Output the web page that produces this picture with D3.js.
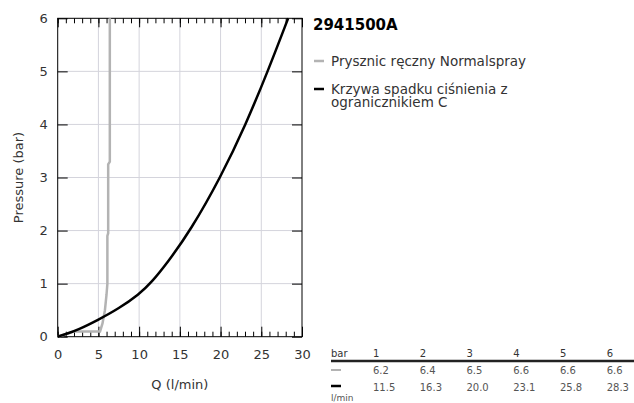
<!DOCTYPE html>
<html>
<head>
<meta charset="utf-8">
<script src="https://cdn.jsdelivr.net/npm/d3@7"></script>
<style>
  body { margin: 0; background: #fff; }
  svg { font-family: 'DejaVu Sans', sans-serif; }
</style>
</head>
<body>
<div id="chart"></div>
<script>
// gray curve: hand shower Normalspray
var normalQ = [0, 1.3, 2.0, 5.2, 5.5, 5.8, 6.0, 6.1, 6.1, 6.2, 6.2, 6.4, 6.4];
var normalP = [0, 0.06, 0.1, 0.1, 0.25, 0.5, 0.8, 1.0, 1.9, 1.95, 3.25, 3.3, 6.0];
// black curve: pressure drop with limiter C
var limQ = [0, 1, 2.5, 5, 7.5, 10, 11.5, 13.5, 16.3, 20.0, 23.1, 25.8, 28.3];
var limP = [0, 0.05, 0.13, 0.32, 0.53, 0.8, 1.02, 1.4, 2, 3, 4, 5, 6];

var xTicks = [0, 5, 10, 15, 20, 25, 30];
var yTicks = [0, 1, 2, 3, 4, 5, 6];

var title = '2941500A';
var legendNames = ['Prysznic ręczny Normalspray', ['Krzywa spadku ciśnienia z', 'ogranicznikiem C']];
var tableBar = ['1', '2', '3', '4', '5', '6'];
var tableNormal = ['6.2', '6.4', '6.5', '6.6', '6.6', '6.6'];
var tableLim = ['11.5', '16.3', '20.0', '23.1', '25.8', '28.3'];

var width = 634, height = 403;
var pLeft = 57.7, pRight = 302, pTop = 18.3, pBottom = 336.7;
var grayCol = '#b3b3b3', txtCol = '#333';

var svg = d3.select('#chart').append('svg')
  .attr('width', width)
  .attr('height', height);

var x = d3.scaleLinear().domain([0, 30]).range([pLeft, pRight]);
var y = d3.scaleLinear().domain([0, 6]).range([pBottom, pTop]);

// grid
svg.append('g').selectAll('line')
  .data(xTicks.slice(1, -1)).enter().append('line')
  .attr('x1', d => x(d)).attr('x2', d => x(d))
  .attr('y1', pTop).attr('y2', pBottom)
  .attr('stroke', '#d4d4dc').attr('stroke-width', 1);
svg.append('g').selectAll('line')
  .data(yTicks.slice(1, -1)).enter().append('line')
  .attr('x1', pLeft).attr('x2', pRight)
  .attr('y1', d => y(d)).attr('y2', d => y(d))
  .attr('stroke', '#d4d4dc').attr('stroke-width', 1);

function styleAxis(g) {
  g.select('.domain').remove();
  g.selectAll('line').attr('stroke', '#000');
  g.selectAll('text').attr('fill', txtCol).style('font-size', '13px')
    .style('font-family', 'DejaVu Sans, sans-serif');
}

// x minor ticks, bottom and top
svg.append('g').attr('transform', 'translate(0,' + pBottom + ')')
  .call(d3.axisBottom(x).tickValues(d3.range(0, 31)).tickSize(-5).tickFormat(''))
  .call(styleAxis);
svg.append('g').attr('transform', 'translate(0,' + pTop + ')')
  .call(d3.axisTop(x).tickValues(d3.range(0, 31)).tickSize(-5).tickFormat(''))
  .call(styleAxis);
// x major
svg.append('g').attr('transform', 'translate(0,' + pBottom + ')')
  .call(d3.axisBottom(x).tickValues(xTicks).tickSize(-10).tickPadding(13).tickFormat(d3.format('d')))
  .call(styleAxis);
svg.append('g').attr('transform', 'translate(0,' + pTop + ')')
  .call(d3.axisTop(x).tickValues(xTicks).tickSize(-9).tickFormat(''))
  .call(styleAxis);
// y ticks left and right
svg.append('g').attr('transform', 'translate(' + pLeft + ',0)')
  .call(d3.axisLeft(y).tickValues(yTicks).tickSize(-10).tickPadding(10).tickFormat(d3.format('d')))
  .call(styleAxis);
svg.append('g').attr('transform', 'translate(' + pRight + ',0)')
  .call(d3.axisRight(y).tickValues(yTicks).tickSize(-10).tickFormat(''))
  .call(styleAxis);

// frame
svg.append('rect')
  .attr('x', pLeft).attr('y', pTop)
  .attr('width', pRight - pLeft).attr('height', pBottom - pTop)
  .attr('fill', 'none').attr('stroke', '#000').attr('stroke-width', 1);

// curves
var normalLine = d3.line()
  .x((d, i) => x(normalQ[i]))
  .y((d, i) => y(normalP[i]));
svg.append('path')
  .datum(normalQ)
  .attr('d', normalLine)
  .attr('fill', 'none')
  .attr('stroke', grayCol)
  .attr('stroke-width', 2.5);

var limLine = d3.line()
  .x((d, i) => x(limQ[i]))
  .y((d, i) => y(limP[i]))
  .curve(d3.curveBasis);
svg.append('path')
  .datum(limQ)
  .attr('d', limLine)
  .attr('fill', 'none')
  .attr('stroke', '#000')
  .attr('stroke-width', 2.5);

// axis titles
svg.append('text')
  .attr('transform', 'rotate(-90)')
  .attr('x', -(pTop + pBottom) / 2)
  .attr('y', 23)
  .attr('text-anchor', 'middle')
  .attr('fill', txtCol)
  .style('font-size', '13px')
  .text('Pressure (bar)');
svg.append('text')
  .attr('x', (pLeft + pRight) / 2)
  .attr('y', 389)
  .attr('text-anchor', 'middle')
  .attr('fill', txtCol)
  .style('font-size', '13px')
  .text('Q (l/min)');

// title and legend
svg.append('text')
  .attr('x', 313).attr('y', 30)
  .attr('fill', '#000')
  .style('font-size', '15px').style('font-weight', 'bold')
  .text(title);

svg.append('line')
  .attr('x1', 314).attr('x2', 324).attr('y1', 61).attr('y2', 61)
  .attr('stroke', grayCol).attr('stroke-width', 2.5);
svg.append('text')
  .attr('x', 331).attr('y', 65.5)
  .attr('fill', txtCol).style('font-size', '13.5px')
  .text(legendNames[0]);

svg.append('line')
  .attr('x1', 314).attr('x2', 324).attr('y1', 89).attr('y2', 89)
  .attr('stroke', '#000').attr('stroke-width', 2.5);
svg.append('text')
  .attr('x', 331).attr('y', 93.5)
  .attr('fill', txtCol).style('font-size', '13.5px')
  .selectAll('tspan').data(legendNames[1]).enter().append('tspan')
  .attr('x', 331).attr('dy', (d, i) => i === 0 ? 0 : 13.5)
  .text(d => d);

// value table
var colX = d3.scaleLinear().domain([0, 5]).range([373, 606.7]);
var tbl = svg.append('g').style('font-size', '10px');
tbl.append('text').attr('x', 331).attr('y', 357).attr('fill', txtCol).text('bar');
tbl.selectAll('text.h').data(tableBar).enter().append('text')
  .attr('x', (d, i) => colX(i)).attr('y', 357).attr('fill', txtCol).text(d => d);
tbl.append('line')
  .attr('x1', 331).attr('x2', 634).attr('y1', 361).attr('y2', 361)
  .attr('stroke', '#222').attr('stroke-width', 2.5);
tbl.append('line')
  .attr('x1', 331).attr('x2', 341).attr('y1', 370).attr('y2', 370)
  .attr('stroke', grayCol).attr('stroke-width', 2);
tbl.selectAll('text.n').data(tableNormal).enter().append('text')
  .attr('x', (d, i) => colX(i)).attr('y', 374).attr('fill', '#555').text(d => d);
tbl.append('line')
  .attr('x1', 331).attr('x2', 341).attr('y1', 386).attr('y2', 386)
  .attr('stroke', '#000').attr('stroke-width', 2.5);
tbl.selectAll('text.l').data(tableLim).enter().append('text')
  .attr('x', (d, i) => colX(i)).attr('y', 391).attr('fill', '#555').text(d => d);
tbl.append('text').attr('x', 331).attr('y', 401).attr('fill', '#555')
  .style('font-size', '9px').text('l/min');
</script>
</body>
</html>
